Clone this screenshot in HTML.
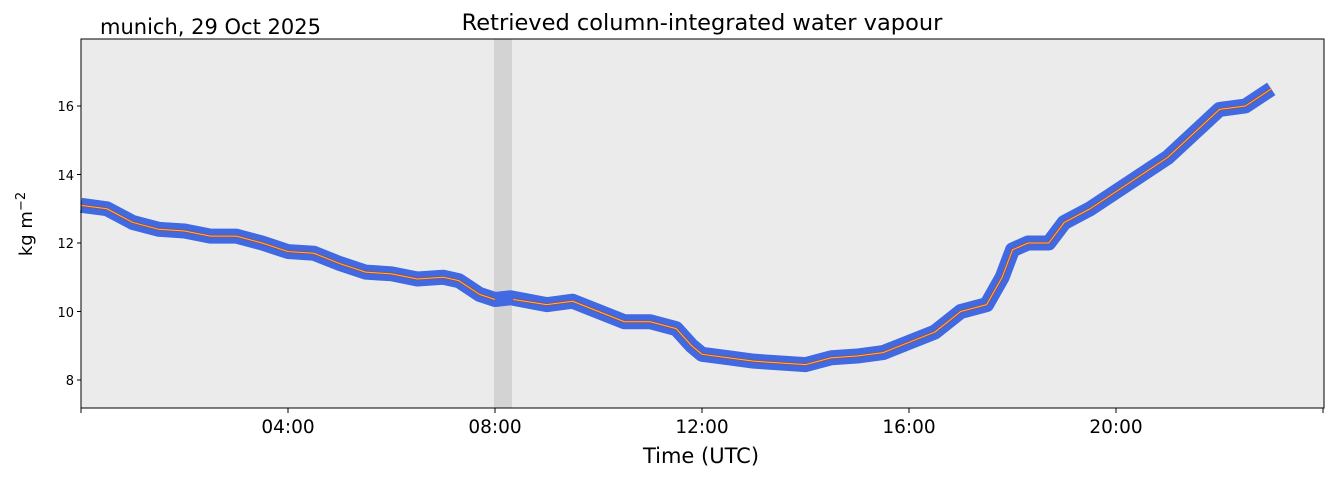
<!DOCTYPE html>
<html><head><style>
body{margin:0;background:#fff;}
svg{display:block;font-family:"DejaVu Sans","Liberation Sans",sans-serif;}
</style></head><body>
<svg width="1334" height="478" viewBox="0 0 1334 478">
<rect x="81" y="39" width="1243" height="369" fill="#ebebeb"/>
<rect x="494" y="39" width="18" height="369" fill="#d3d3d3"/>
<g transform="translate(81,380) scale(51.75,-34.25) translate(0,-8)">
<polyline fill="none" stroke="#4169e1" stroke-width="15" stroke-linejoin="round" vector-effect="non-scaling-stroke"
points="0,13.1 0.5,13.0 1,12.6 1.5,12.4 2,12.35 2.5,12.2 3,12.2 3.5,12.0 4,11.75 4.5,11.7 5,11.4 5.5,11.15 6,11.1 6.5,10.95 7,11.0 7.3,10.9 7.7,10.5 8,10.35 8.3,10.4 9,10.2 9.5,10.3 10,10.0 10.5,9.7 11,9.7 11.5,9.5 11.8,9.0 12,8.75 12.5,8.65 13,8.55 14,8.45 14.5,8.65 15,8.7 15.5,8.8 16,9.1 16.5,9.4 17,10.0 17.5,10.2 17.8,11.0 18,11.8 18.3,12.0 18.7,12.0 19,12.6 19.5,13.0 20,13.5 20.5,14.0 21,14.5 21.5,15.2 22,15.9 22.5,16.0 23,16.5"/>
<g fill="none" stroke-linejoin="round">
<polyline stroke="#a0522d" stroke-width="2.6" vector-effect="non-scaling-stroke" points="0,13.1 0.5,13.0 1,12.6 1.5,12.4 2,12.35 2.5,12.2 3,12.2 3.5,12.0 4,11.75 4.5,11.7 5,11.4 5.5,11.15 6,11.1 6.5,10.95 7,11.0 7.3,10.9 7.7,10.5 8,10.35"/>
<polyline stroke="#a0522d" stroke-width="2.6" vector-effect="non-scaling-stroke" points="8.35,10.35 9,10.2 9.5,10.3 10,10.0 10.5,9.7 11,9.7 11.5,9.5 11.8,9.0 12,8.75 12.5,8.65 13,8.55 14,8.45 14.5,8.65 15,8.7 15.5,8.8 16,9.1 16.5,9.4 17,10.0 17.5,10.2 17.8,11.0 18,11.8 18.3,12.0 18.7,12.0 19,12.6 19.5,13.0 20,13.5 20.5,14.0 21,14.5 21.5,15.2 22,15.9 22.5,16.0 23,16.5"/>
<polyline stroke="#ffb070" stroke-width="1" vector-effect="non-scaling-stroke" points="0,13.1 0.5,13.0 1,12.6 1.5,12.4 2,12.35 2.5,12.2 3,12.2 3.5,12.0 4,11.75 4.5,11.7 5,11.4 5.5,11.15 6,11.1 6.5,10.95 7,11.0 7.3,10.9 7.7,10.5 8,10.35"/>
<polyline stroke="#ffb070" stroke-width="1" vector-effect="non-scaling-stroke" points="8.35,10.35 9,10.2 9.5,10.3 10,10.0 10.5,9.7 11,9.7 11.5,9.5 11.8,9.0 12,8.75 12.5,8.65 13,8.55 14,8.45 14.5,8.65 15,8.7 15.5,8.8 16,9.1 16.5,9.4 17,10.0 17.5,10.2 17.8,11.0 18,11.8 18.3,12.0 18.7,12.0 19,12.6 19.5,13.0 20,13.5 20.5,14.0 21,14.5 21.5,15.2 22,15.9 22.5,16.0 23,16.5"/>
</g>
</g>
<rect x="81" y="39" width="1243" height="369" fill="none" stroke="#000" stroke-width="1"/>
<g stroke="#000">
<line x1="77" x2="81" y1="106" y2="106"/><line x1="77" x2="81" y1="174.5" y2="174.5"/><line x1="77" x2="81" y1="243" y2="243"/><line x1="77" x2="81" y1="311.5" y2="311.5"/><line x1="77" x2="81" y1="380" y2="380"/>
<line x1="81" x2="81" y1="408" y2="413"/><line x1="288" x2="288" y1="408" y2="413"/><line x1="495" x2="495" y1="408" y2="413"/><line x1="702" x2="702" y1="408" y2="413"/><line x1="909" x2="909" y1="408" y2="413"/><line x1="1116" x2="1116" y1="408" y2="413"/><line x1="1323" x2="1323" y1="408" y2="413"/>
</g>
<g font-size="13" text-anchor="end">
<text x="74" y="111">16</text><text x="74" y="180">14</text><text x="74" y="248">12</text><text x="74" y="317">10</text><text x="74" y="385">8</text>
</g>
<g font-size="18.5" text-anchor="middle">
<text x="288" y="433">04:00</text><text x="495" y="433">08:00</text><text x="702" y="433">12:00</text><text x="909" y="433">16:00</text><text x="1116" y="433">20:00</text>
</g>
<text x="701" y="463" font-size="21" text-anchor="middle">Time (UTC)</text>
<text transform="translate(32,224) rotate(-90)" font-size="18" text-anchor="middle">kg m<tspan dy="-7" font-size="13">−2</tspan></text>
<text x="702" y="30" font-size="22.5" text-anchor="middle">Retrieved column-integrated water vapour</text>
<text x="100" y="34" font-size="21">munich, 29 Oct 2025</text>
</svg>
</body></html>
